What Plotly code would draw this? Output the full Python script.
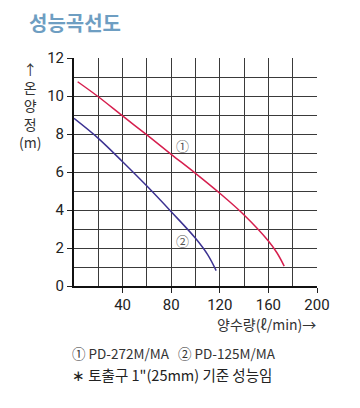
import plotly.graph_objects as go

# Data
red_x = [3, 20, 40, 60, 80, 100, 120, 140, 160, 167, 173]
red_y = [10.75, 9.96, 8.95, 7.95, 6.93, 5.93, 4.88, 3.74, 2.37, 1.75, 1.05]
blue_x = [0, 20, 40, 60, 80, 100, 110, 117]
blue_y = [8.82, 7.77, 6.54, 5.26, 3.91, 2.51, 1.65, 0.81]
x_ticks = [40, 80, 120, 160, 200]
y_ticks = [0, 2, 4, 6, 8, 10, 12]
series_labels = ["①", "②"]
label_pos = [(89, 7.4), (89.5, 2.37)]

NUM_FONT = "Liberation Sans Narrow, Roboto, Noto Sans CJK KR"
KR_FONT = "Noto Sans CJK KR"

fig = go.Figure()
fig.add_trace(go.Scatter(x=red_x, y=red_y, mode="lines", line=dict(color="#d61f4e", width=1.5, shape="spline"), hoverinfo="skip"))
fig.add_trace(go.Scatter(x=blue_x, y=blue_y, mode="lines", line=dict(color="#3c3292", width=1.5, shape="spline"), hoverinfo="skip"))

for lab, (lx, ly) in zip(series_labels, label_pos):
    fig.add_annotation(x=lx, y=ly, text=lab, showarrow=False, font=dict(family=KR_FONT, size=13, color="#555"))

grid_col = "#3a3a3a"
fig.update_xaxes(range=[0, 200], tickvals=x_ticks, ticks="outside", ticklen=5, tickcolor="#222",
                 ticklabelstandoff=-1,
                 showgrid=True, gridcolor=grid_col, gridwidth=1,
                 minor=dict(dtick=20, tick0=0, showgrid=True, gridcolor=grid_col, gridwidth=1, ticks=""),
                 showline=True, linecolor="#111", linewidth=2, zeroline=False,
                 tickfont=dict(family=NUM_FONT, size=15, color="#222"))
fig.update_yaxes(range=[0, 12], tickvals=y_ticks, ticks="outside", ticklen=5, tickcolor="#222",
                 showgrid=True, gridcolor=grid_col, gridwidth=1,
                 minor=dict(dtick=1, tick0=0, showgrid=True, gridcolor=grid_col, gridwidth=1, ticks=""),
                 showline=True, linecolor="#111", linewidth=2, zeroline=False,
                 tickfont=dict(family=NUM_FONT, size=15, color="#222"))

# Title
fig.add_annotation(xref="paper", yref="paper", x=-0.195, y=1.154, xanchor="left", yanchor="middle",
                   text="<b>성능곡선도</b>", showarrow=False,
                   font=dict(family=KR_FONT, size=20, color="#6e9ec2"))
# Y axis title (stacked)
fig.add_annotation(xref="paper", yref="paper", x=-0.181, y=0.79, xanchor="center", yanchor="middle",
                   text="↑<br>온<br>양<br>정<br>(m)", showarrow=False,
                   font=dict(family=KR_FONT, size=14, color="#333"))
# X axis title
fig.add_annotation(xref="paper", yref="paper", x=1.005, y=-0.165, xanchor="right", yanchor="middle",
                   text="양수량(ℓ/min)→", showarrow=False,
                   font=dict(family=KR_FONT, size=14, color="#333"))
# Legend line
fig.add_annotation(xref="paper", yref="paper", x=-0.015, y=-0.294, xanchor="left", yanchor="middle",
                   text="① PD-272M/MA   ② PD-125M/MA", showarrow=False,
                   font=dict(family=KR_FONT, size=13.5, color="#333"))
# Note line
fig.add_annotation(xref="paper", yref="paper", x=-0.015, y=-0.39, xanchor="left", yanchor="middle",
                   text="∗ 토출구 1\"(25mm) 기준 성능임", showarrow=False,
                   font=dict(family=KR_FONT, size=14.5, color="#222"))

# The page body keeps an 8px margin, so the figure is drawn 8px smaller and shifted
fig.update_layout(width=352, height=400, margin=dict(l=66, r=43, t=50, b=122),
                  paper_bgcolor="white", plot_bgcolor="white", showlegend=False)

fig.write_html("out.html")
